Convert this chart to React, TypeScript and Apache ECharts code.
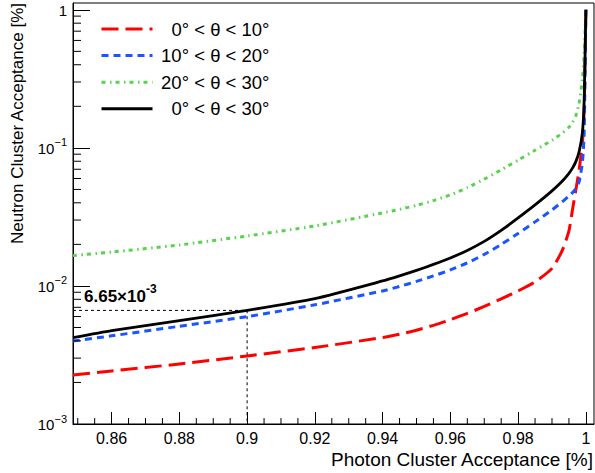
import React, { useEffect, useRef } from "react";
import * as echarts from "echarts";

const FONT = "'Liberation Sans', Arial, Helvetica, sans-serif";

const X_MIN = 0.8486;
const X_MAX = 1.0024;
const Y_MIN = 0.001;
const Y_MAX = 1.12;

const X_MAJOR = [0.86, 0.88, 0.9, 0.92, 0.94, 0.96, 0.98, 1.0];
const X_MINOR = [
  0.85, 0.855, 0.865, 0.87, 0.875, 0.885, 0.89, 0.895, 0.905, 0.91, 0.915,
  0.925, 0.93, 0.935, 0.945, 0.95, 0.955, 0.965, 0.97, 0.975, 0.985, 0.99, 0.995,
];
const Y_MINOR = [
  0.002, 0.003, 0.004, 0.005, 0.006, 0.007, 0.008, 0.009,
  0.02, 0.03, 0.04, 0.05, 0.06, 0.07, 0.08, 0.09,
  0.2, 0.3, 0.4, 0.5, 0.6, 0.7, 0.8, 0.9,
];

const NAMES = ["0° < θ < 10°", "10° < θ < 20°", "20° < θ < 30°", "0° < θ < 30°"];

const X = [
  0.8486, 0.86, 0.88, 0.9, 0.92, 0.94, 0.945, 0.95, 0.955, 0.96, 0.965, 0.97,
  0.975, 0.98, 0.985, 0.99, 0.993, 0.995, 0.996, 0.997, 0.998, 0.999, 0.9995, 1.0,
];
const RED = [
  2.26e-3, 2.42e-3, 2.72e-3, 3.11e-3, 3.58e-3, 4.23e-3, 4.47e-3, 4.78e-3, 5.18e-3,
  5.69e-3, 6.32e-3, 7.1e-3, 8.05e-3, 9.2e-3, 1.069e-2, 1.34e-2, 1.8e-2,
  2.5e-2, 3.5e-2, 4.9e-2, 6.9e-2, 0.1105, 0.1886, 1.0,
];
const BLUE = [
  3.99e-3, 4.35e-3, 5.1e-3, 5.99e-3, 7.3e-3, 9.2e-3, 9.92e-3, 1.078e-2, 1.182e-2,
  1.306e-2, 1.468e-2, 1.691e-2, 1.998e-2, 2.402e-2, 2.91e-2, 3.554e-2, 4.062e-2,
  4.489e-2, 4.719e-2, 5.045e-2, 5.669e-2, 7.916e-2, 0.1284, 1.0,
];
const GREEN = [
  1.66e-2, 1.76e-2, 1.98e-2, 2.3e-2, 2.72e-2, 3.381e-2, 3.585e-2, 3.833e-2,
  4.152e-2, 4.565e-2, 5.146e-2, 5.932e-2, 6.928e-2, 8.145e-2, 9.608e-2, 0.1135,
  0.1276, 0.141, 0.152, 0.1694, 0.2105, 0.3194, 0.472, 1.0,
];
const BLACK = [
  4.22e-3, 4.75e-3, 5.6e-3, 6.65e-3, 8.1e-3, 1.087e-2, 1.182e-2, 1.295e-2,
  1.431e-2, 1.595e-2, 1.808e-2, 2.101e-2, 2.525e-2, 3.111e-2, 3.864e-2, 4.88e-2,
  5.728e-2, 6.545e-2, 7.103e-2, 7.916e-2, 9.354e-2, 0.1306, 0.2227, 1.0,
];

const MARK_X = 0.9;
const MARK_Y = 6.65e-3;

function pairs(ys: number[]) {
  return X.map((x, i) => [x, ys[i]]);
}

export default function App() {
  const ref = useRef<HTMLDivElement>(null);
  useEffect(() => {
    if (!ref.current) return;
    const chart = echarts.init(ref.current, undefined, { renderer: "svg" });
    const curve = (name: string, ys: number[], color: string, type: any, width: number, z: number) => ({
      name,
      type: "line",
      data: pairs(ys),
      symbol: "none",
      smooth: 0.2,
      z,
      lineStyle: { color, width, type, join: "round" },
      itemStyle: { color },
    });
    const tickSeries = (axis: "x" | "y", values: number[], len: number) => ({
      type: "custom",
      silent: true,
      z: 5,
      data: values.map((v) => (axis === "x" ? [v, Y_MIN] : [X_MIN, v])),
      renderItem: (params: any, api: any) => {
        const p = api.coord([api.value(0), api.value(1)]);
        const shape =
          axis === "x"
            ? { x1: p[0], y1: p[1], x2: p[0], y2: p[1] - len }
            : { x1: p[0], y1: p[1], x2: p[0] + len, y2: p[1] };
        return { type: "line", shape, style: { stroke: "#000", lineWidth: 1 } };
      },
    });
    chart.setOption({
      animation: false,
      backgroundColor: "#fff",
      textStyle: { fontFamily: FONT },
      grid: {
        left: 73,
        right: 1,
        top: 3,
        bottom: 49,
        show: true,
        borderColor: "#000",
        borderWidth: 1,
        backgroundColor: "transparent",
        containLabel: false,
        outerBoundsMode: "none",
      },
      legend: {
        orient: "vertical",
        left: 95,
        top: 14,
        itemWidth: 51,
        itemHeight: 20,
        itemGap: 6.6,
        data: NAMES,
        selectedMode: false,
        itemStyle: { opacity: 0 },
        lineStyle: { width: 3 },
        formatter: (n: string) => `{t|${n}}`,
        textStyle: {
          rich: {
            t: { width: 112, height: 20, lineHeight: 20, align: "right", fontSize: 18.5, fontFamily: FONT, color: "#000" },
          },
        },
      },
      xAxis: {
        type: "value",
        min: X_MIN,
        max: X_MAX,
        splitLine: { show: false },
        axisLine: { show: true, onZero: false, lineStyle: { color: "#000", width: 1 } },
        axisTick: { show: true, inside: true, length: 12, customValues: X_MAJOR, lineStyle: { color: "#000" } },
        axisLabel: {
          customValues: X_MAJOR,
          margin: 6,
          fontSize: 16,
          fontFamily: FONT,
          color: "#000",
          formatter: (v: number) => String(+v.toFixed(2)),
        },
        name: "Photon Cluster Acceptance [%]",
        nameLocation: "end",
        nameGap: -1,
        nameMoveOverlap: false,
        nameTextStyle: {
          fontSize: 19,
          fontFamily: FONT,
          color: "#000",
          align: "right",
          verticalAlign: "top",
          padding: [26, 0, 0, 0],
        },
      },
      yAxis: {
        type: "log",
        logBase: 10,
        min: Y_MIN,
        max: Y_MAX,
        splitLine: { show: false },
        axisLine: { show: true, lineStyle: { color: "#000", width: 1 } },
        axisTick: { show: true, inside: true, length: 17, lineStyle: { color: "#000" } },
        axisLabel: {
          showMaxLabel: false,
          margin: 6,
          color: "#000",
          formatter: (v: number) => {
            const e = Math.round(Math.log10(v));
            if (e === 0) return "{b|1}";
            return `{b|10}{s|−${-e}}`;
          },
          rich: {
            b: { fontSize: 15, fontFamily: FONT, color: "#000", lineHeight: 16, verticalAlign: "bottom" },
            s: { fontSize: 11, fontFamily: FONT, color: "#000", lineHeight: 11, verticalAlign: "top", padding: [-3, 0, 0, 0] },
          },
        },
        name: "Neutron Cluster Acceptance [%]",
        nameLocation: "end",
        nameRotate: 90,
        nameGap: 0,
        nameMoveOverlap: false,
        nameTextStyle: {
          fontSize: 17,
          fontFamily: FONT,
          color: "#000",
          align: "right",
          verticalAlign: "bottom",
          lineHeight: 18,
          padding: [0, 0, 47, 0],
        },
      },
      series: [
        {
          name: "marker",
          type: "line",
          symbol: "circle",
          symbolSize: 0,
          showSymbol: true,
          z: 3,
          data: [
            {
              value: [X_MIN, MARK_Y],
              label: {
                show: true,
                position: "top",
                align: "left",
                distance: 5,
                offset: [11, 0],
                formatter: "{b|6.65×10}{s|-3}",
                rich: {
                  b: { fontSize: 17, fontWeight: "bold", fontFamily: FONT, color: "#000", lineHeight: 18, verticalAlign: "bottom" },
                  s: { fontSize: 12, fontWeight: "bold", fontFamily: FONT, color: "#000", lineHeight: 12, verticalAlign: "top", padding: [-4, 0, 0, 0] },
                },
              },
            },
            [MARK_X, MARK_Y],
            [MARK_X, Y_MIN],
          ],
          lineStyle: { color: "#000", width: 1, type: [3, 3] },
          itemStyle: { color: "#000" },
        },
        curve(NAMES[0], RED, "#ff0000", [17, 7], 3, 4),
        curve(NAMES[1], BLUE, "#1a55ff", [7, 5], 3, 4),
        curve(NAMES[2], GREEN, "#5ad250", [4, 4.5, 1.5, 4], 3, 4),
        curve(NAMES[3], BLACK, "#000000", "solid", 2.8, 6),
        tickSeries("x", X_MINOR, 6),
        tickSeries("y", Y_MINOR, 8),
      ],
    });
    return () => chart.dispose();
  }, []);
  return (
    <div
      ref={ref}
      style={{ position: "absolute", left: 0, top: 0, width: 595, height: 473, background: "#fff" }}
    />
  );
}
